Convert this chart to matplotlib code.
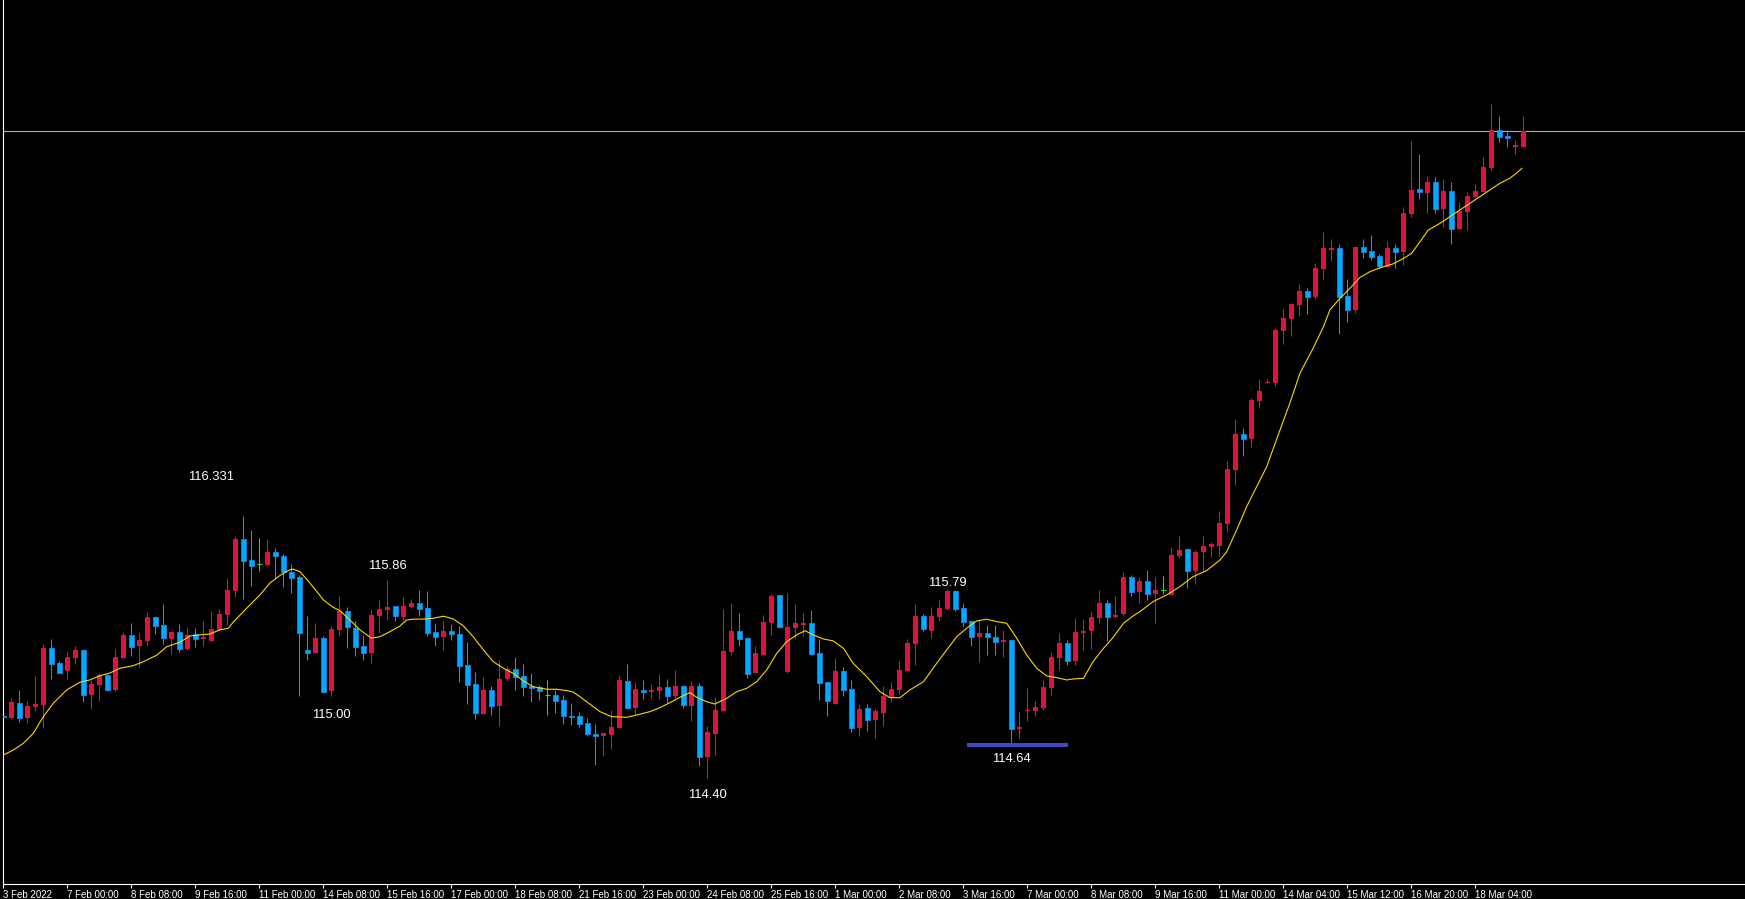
import matplotlib
matplotlib.use("Agg")
import matplotlib.pyplot as plt
import numpy as np

# ---------------- data (H4 candles) ----------------
opens = [114.852, 114.841, 114.952, 114.843, 114.922, 114.939, 115.358, 115.247, 115.190, 115.284,
         115.343, 115.013, 115.087, 115.159, 115.050, 115.286, 115.454, 115.375, 115.412, 115.587,
         115.527, 115.426, 115.476, 115.353, 115.461, 115.426, 115.412, 115.493, 115.604, 115.781,
         116.162, 116.007, 115.978, 115.973, 116.069, 116.039, 115.921, 115.882, 115.343, 115.323,
         115.431, 115.041, 115.491, 115.631, 115.505, 115.373, 115.321, 115.594, 115.638, 115.668,
         115.587, 115.660, 115.690, 115.653, 115.476, 115.439, 115.483, 115.461, 115.232, 115.092,
         114.871, 115.048, 114.930, 115.129, 115.203, 115.151, 115.077, 115.070, 115.011, 115.011,
         114.974, 114.858, 114.856, 114.804, 114.725, 114.711, 114.718, 114.770, 115.114, 114.917,
         115.048, 115.035, 115.043, 115.070, 115.006, 115.077, 114.932, 115.077, 114.556, 114.725,
         114.895, 115.330, 115.485, 115.434, 115.175, 115.308, 115.544, 115.751, 115.183, 115.508,
         115.530, 115.544, 115.321, 115.109, 114.947, 115.188, 115.057, 114.770, 114.917, 114.829,
         114.880, 114.989, 115.050, 115.190, 115.390, 115.596, 115.485, 115.589, 115.648, 115.781,
         115.655, 115.559, 115.441, 115.471, 115.441, 115.404, 115.419, 114.762, 114.895, 114.895,
         114.917, 115.065, 115.286, 115.397, 115.264, 115.471, 115.485, 115.581, 115.692, 115.589,
         115.611, 115.884, 115.773, 115.854, 115.759, 115.786, 115.751, 116.039, 116.091, 115.928,
         116.066, 116.105, 116.111, 116.275, 116.674, 116.937, 116.902, 117.183, 117.316, 117.316,
         117.698, 117.787, 117.890, 117.991, 117.949, 118.156, 118.296, 118.309, 117.954, 117.853,
         118.317, 118.287, 118.250, 118.171, 118.309, 118.282, 118.562, 118.744, 118.717, 118.796,
         118.599, 118.730, 118.451, 118.577, 118.686, 118.724, 118.902, 119.180, 119.135, 119.056,
         119.056]
highs = [114.944, 114.989, 115.048, 114.967, 115.151, 115.387, 115.424, 115.260, 115.336, 115.373,
         115.350, 115.122, 115.171, 115.166, 115.352, 115.476, 115.542, 115.469, 115.623, 115.594,
         115.682, 115.485, 115.535, 115.515, 115.505, 115.557, 115.631, 115.646, 115.874, 116.184,
         116.331, 116.229, 116.169, 116.162, 116.099, 116.054, 115.980, 115.897, 115.594, 115.542,
         115.446, 115.520, 115.742, 115.661, 115.557, 115.454, 115.646, 115.712, 115.860, 115.668,
         115.734, 115.719, 115.786, 115.779, 115.542, 115.557, 115.535, 115.520, 115.402, 115.181,
         115.144, 115.077, 115.269, 115.225, 115.291, 115.240, 115.173, 115.085, 115.122, 115.048,
         115.011, 114.952, 114.885, 114.841, 114.799, 114.733, 114.900, 115.159, 115.240, 115.107,
         115.122, 115.092, 115.166, 115.129, 115.195, 115.085, 115.114, 115.100, 114.784, 114.998,
         115.646, 115.692, 115.618, 115.441, 115.375, 115.604, 115.759, 115.751, 115.766, 115.685,
         115.618, 115.640, 115.426, 115.109, 115.284, 115.218, 115.124, 114.947, 114.944, 114.917,
         115.080, 115.109, 115.264, 115.426, 115.685, 115.611, 115.663, 115.714, 115.790, 115.785,
         115.692, 115.559, 115.559, 115.530, 115.530, 115.493, 115.419, 114.888, 115.065, 114.969,
         115.124, 115.330, 115.471, 115.419, 115.581, 115.574, 115.633, 115.788, 115.714, 115.744,
         115.921, 115.899, 115.882, 115.936, 115.884, 115.889, 116.105, 116.186, 116.098, 116.083,
         116.186, 116.142, 116.370, 116.738, 117.048, 116.981, 117.202, 117.342, 117.342, 117.718,
         117.858, 117.903, 118.043, 118.013, 118.198, 118.427, 118.375, 118.338, 118.080, 118.317,
         118.375, 118.405, 118.265, 118.360, 118.338, 118.611, 119.098, 119.003, 118.840, 118.833,
         118.818, 118.796, 118.650, 118.722, 118.781, 118.981, 119.372, 119.283, 119.180, 119.106,
         119.283]
lows = [114.728, 114.834, 114.814, 114.806, 114.895, 114.770, 115.131, 115.173, 115.131, 115.242,
        114.961, 114.910, 114.969, 115.043, 115.043, 115.284, 115.301, 115.220, 115.375, 115.463,
        115.389, 115.316, 115.330, 115.345, 115.367, 115.375, 115.412, 115.491, 115.530, 115.737,
        115.722, 115.818, 115.929, 115.968, 115.869, 115.811, 115.760, 115.005, 115.271, 115.323,
        115.026, 115.000, 115.446, 115.358, 115.299, 115.269, 115.247, 115.469, 115.564, 115.557,
        115.557, 115.653, 115.594, 115.446, 115.373, 115.343, 115.417, 115.107, 114.944, 114.834,
        114.871, 114.863, 114.782, 115.114, 115.048, 115.004, 114.959, 114.974, 114.863, 114.878,
        114.799, 114.792, 114.777, 114.711, 114.497, 114.563, 114.615, 114.770, 114.910, 114.866,
        114.982, 114.989, 114.982, 114.954, 114.989, 114.917, 114.821, 114.489, 114.400, 114.571,
        114.895, 115.308, 115.375, 115.139, 115.175, 115.308, 115.456, 115.508, 115.175, 115.434,
        115.449, 115.308, 114.976, 114.858, 114.947, 115.006, 114.740, 114.711, 114.747, 114.696,
        114.784, 114.961, 115.020, 115.190, 115.235, 115.485, 115.434, 115.559, 115.640, 115.633,
        115.515, 115.375, 115.257, 115.308, 115.308, 115.293, 114.640, 114.696, 114.821, 114.858,
        114.902, 115.013, 115.198, 115.235, 115.235, 115.345, 115.353, 115.540, 115.412, 115.581,
        115.596, 115.744, 115.692, 115.714, 115.544, 115.759, 115.751, 116.024, 115.803, 115.833,
        115.921, 116.031, 116.039, 116.216, 116.563, 116.775, 116.842, 117.131, 117.316, 117.294,
        117.602, 117.661, 117.809, 117.824, 117.935, 118.083, 118.214, 117.676, 117.765, 117.831,
        118.238, 118.223, 118.156, 118.171, 118.164, 118.186, 118.540, 118.669, 118.569, 118.569,
        118.466, 118.341, 118.451, 118.444, 118.686, 118.724, 118.888, 119.093, 119.056, 119.004,
        119.056]
closes = [114.845, 114.959, 114.843, 114.930, 114.944, 115.358, 115.242, 115.175, 115.291, 115.343,
          115.013, 115.092, 115.159, 115.050, 115.291, 115.454, 115.367, 115.417, 115.587, 115.522,
          115.434, 115.476, 115.353, 115.454, 115.426, 115.441, 115.498, 115.609, 115.786, 116.162,
          116.002, 115.965, 115.978, 116.069, 116.034, 115.921, 115.871, 115.471, 115.323, 115.431,
          115.033, 115.498, 115.631, 115.513, 115.365, 115.321, 115.601, 115.646, 115.660, 115.594,
          115.668, 115.690, 115.646, 115.469, 115.439, 115.483, 115.461, 115.225, 115.085, 114.878,
          115.048, 114.930, 115.129, 115.203, 115.144, 115.070, 115.063, 115.041, 115.011, 114.967,
          114.858, 114.851, 114.799, 114.725, 114.711, 114.733, 114.777, 115.122, 114.917, 115.055,
          115.035, 115.048, 115.070, 115.006, 115.077, 114.939, 115.077, 114.556, 114.740, 114.902,
          115.336, 115.485, 115.426, 115.168, 115.323, 115.552, 115.744, 115.515, 115.515, 115.544,
          115.544, 115.316, 115.101, 114.969, 115.188, 115.050, 114.770, 114.910, 114.829, 114.895,
          115.006, 115.057, 115.198, 115.397, 115.596, 115.500, 115.596, 115.655, 115.781, 115.648,
          115.552, 115.441, 115.471, 115.441, 115.404, 115.419, 114.762, 114.777, 114.902, 114.925,
          115.072, 115.294, 115.397, 115.264, 115.478, 115.485, 115.589, 115.692, 115.589, 115.604,
          115.884, 115.773, 115.854, 115.759, 115.788, 115.786, 116.046, 116.083, 115.928, 116.066,
          116.111, 116.127, 116.281, 116.679, 116.937, 116.902, 117.188, 117.253, 117.323, 117.704,
          117.792, 117.895, 117.991, 117.949, 118.161, 118.309, 118.309, 117.949, 117.853, 118.317,
          118.282, 118.245, 118.179, 118.309, 118.282, 118.567, 118.737, 118.724, 118.796, 118.599,
          118.730, 118.451, 118.584, 118.693, 118.730, 118.907, 119.180, 119.130, 119.122, 119.069,
          119.173]

# moving average (yellow line), read at bar positions
ma_pos = [0, 1.23, 2.48, 3.73, 4.98, 6.23, 7.9, 9.56, 10.8, 12.06, 13.3, 14.56, 16.2, 17.5, 19.15,
          20.4, 22.06, 23.3, 24.56, 25.8, 27.06, 28.1, 28.7, 30.4, 32.06, 33.3, 34.56, 35.8, 36.2,
          37.06, 38.3, 40, 41.2, 42.06, 43.3, 44.56, 46, 47.06, 48.3, 49.56, 50.4, 51.2, 52.9, 53.7,
          55, 56.2, 57.5, 58.7, 60, 61.2, 62.5, 63.7, 65, 66.2, 67.9, 69.15, 70.4, 71.2, 72.06, 72.9,
          74.56, 76, 77.9, 79.15, 80.8, 82.06, 83.3, 84.56, 85.8, 86.65, 87.9, 88.9, 90.4, 91.65,
          92.9, 94.15, 95.4, 96.65, 97.9, 99.15, 100.2, 101.2, 102.5, 103.7, 105, 106.2, 107.06,
          107.9, 109.56, 110.8, 112.06, 113.3, 115, 116.65, 117.9, 119.15, 120.4, 121.65, 122.9,
          124.15, 125.4, 126.65, 127.9, 129.15, 130.4, 131.65, 132.9, 133.7, 135, 136.2, 137.5,
          138.7, 140, 141.2, 142.06, 143.7, 145.4, 147.06, 148.7, 150.4, 152.06, 152.9, 154.15,
          155.4, 156.65, 157.9, 159.56, 160.8, 162.06, 163.7, 165, 165.8, 167.06, 168.3, 169.56,
          170.8, 172.06, 173.7, 175, 176, 177.06, 178.1, 179.56, 180.8, 182.06, 183.3, 184.56,
          185.8, 187.06, 188.3, 189.1, 189.8]
ma_vals = [114.568, 114.605, 114.654, 114.728, 114.851, 114.950, 115.048, 115.105, 115.122, 115.153,
           115.173, 115.208, 115.227, 115.257, 115.304, 115.367, 115.400, 115.446, 115.454, 115.461,
           115.491, 115.503, 115.547, 115.651, 115.749, 115.837, 115.893, 115.935, 115.940, 115.921,
           115.837, 115.712, 115.658, 115.633, 115.564, 115.491, 115.430, 115.441, 115.478, 115.520,
           115.564, 115.570, 115.572, 115.577, 115.592, 115.572, 115.520, 115.441, 115.343, 115.257,
           115.208, 115.171, 115.114, 115.072, 115.053, 115.053, 115.043, 115.033, 114.998, 114.961,
           114.888, 114.851, 114.846, 114.863, 114.888, 114.917, 114.954, 114.994, 115.028, 114.994,
           114.961, 114.944, 114.986, 115.035, 115.060, 115.109, 115.195, 115.318, 115.404, 115.454,
           115.485, 115.454, 115.424, 115.410, 115.355, 115.245, 115.195, 115.146, 115.035, 114.991,
           114.991, 115.048, 115.109, 115.245, 115.343, 115.441, 115.503, 115.557, 115.570, 115.552,
           115.540, 115.430, 115.306, 115.208, 115.151, 115.139, 115.122, 115.129, 115.134, 115.257,
           115.355, 115.435, 115.540, 115.594, 115.626, 115.700, 115.749, 115.811, 115.884, 115.929,
           116.007, 116.068, 116.229, 116.401, 116.548, 116.695, 116.966, 117.164, 117.385, 117.569,
           117.729, 117.852, 117.938, 118.011, 118.092, 118.134, 118.163, 118.192, 118.232, 118.269,
           118.355, 118.442, 118.491, 118.540, 118.589, 118.639, 118.688, 118.737, 118.787, 118.824,
           118.860, 118.897]

tick_labels = ["3 Feb 2022", "7 Feb 00:00", "8 Feb 08:00", "9 Feb 16:00", "11 Feb 00:00",
               "14 Feb 08:00", "15 Feb 16:00", "17 Feb 00:00", "18 Feb 08:00", "21 Feb 16:00",
               "23 Feb 00:00", "24 Feb 08:00", "25 Feb 16:00", "1 Mar 00:00", "2 Mar 08:00",
               "3 Mar 16:00", "7 Mar 00:00", "8 Mar 08:00", "9 Mar 16:00", "11 Mar 00:00",
               "14 Mar 04:00", "15 Mar 12:00", "16 Mar 20:00", "18 Mar 04:00"]
bars_per_tick = 8

# price annotations (text, bar position, price position)
note_texts = ["116.331", "115.86", "115.00", "114.40", "115.79", "114.64"]
note_bar = [25.9, 48.0, 41.0, 88.0, 118.0, 126.0]
note_price = [116.620, 115.963, 114.863, 114.273, 115.835, 114.536]

level_price = 114.64
level_bars = [120.4, 133.1]

# ---------------- drawing ----------------
W, H = 1745, 899
RED = "#DC143C"
BLUE_BODY = "#00AAFF"
BLUE_WICK = "#1E90FF"
GREEN = "#22DD22"
FONT = ["Liberation Sans", "DejaVu Sans"]

fig = plt.figure(figsize=(W / 100, H / 100), dpi=100, facecolor="black")
ax = fig.add_axes([2.5 / W, 15 / H, 1 - 2.5 / W, 1 - 15 / H])
ax.set_facecolor("black")

o = np.array(opens); h = np.array(highs); l = np.array(lows); c = np.array(closes)
x = np.arange(len(o))
up = c > o
dn = c < o
dj = c == o

ymin, ymax = 113.616, 120.139
px = (ymax - ymin) / 884.0
bw = 0.625

ax.vlines(x[up], l[up], h[up], color=RED, lw=0.75, zorder=2)
ax.vlines(x[dn], l[dn], h[dn], color=BLUE_WICK, lw=0.75, zorder=2)
ax.vlines(x[dj], l[dj], h[dj], color=GREEN, lw=0.75, zorder=2)

ax.bar(x[up], np.maximum(c[up] - o[up], px), bottom=o[up], width=bw,
       color=RED, linewidth=0, zorder=3)
ax.bar(x[dn], np.maximum(o[dn] - c[dn], px), bottom=c[dn], width=bw,
       color=BLUE_BODY, edgecolor=BLUE_WICK, linewidth=0.5, zorder=3)
ax.hlines(o[dj], x[dj] - bw / 2, x[dj] + bw / 2, color=GREEN, lw=0.9, zorder=3)

ax.plot(ma_pos, ma_vals, color="#FFD700", lw=0.8, zorder=4)

ax.axhline(closes[-1], color="#A9AEB8", lw=0.8, zorder=1)
ax.plot(level_bars, [level_price, level_price], color="#4048C8", lw=2.9,
        solid_capstyle="butt", zorder=4)

for t, bx, py in zip(note_texts, note_bar, note_price):
    ax.text(bx, py, t, color="white", fontsize=9.4, family=FONT,
            ha="center", va="center", zorder=5)

ax.set_xlim(-0.125, 217.69)
ax.set_ylim(ymin, ymax)

ticks = np.arange(len(tick_labels)) * bars_per_tick
ax.set_xticks(ticks)
ax.set_xticklabels(tick_labels, ha="left", family=FONT, fontsize=7.0, color="white")
ax.set_yticks([])
ax.tick_params(axis="x", colors="white", length=3, width=0.8, pad=1.0)

for s in ["top", "right"]:
    ax.spines[s].set_visible(False)
for s in ["left", "bottom"]:
    ax.spines[s].set_color("white")
    ax.spines[s].set_linewidth(0.8)

fig.savefig("out.png", dpi=100, facecolor="black")
